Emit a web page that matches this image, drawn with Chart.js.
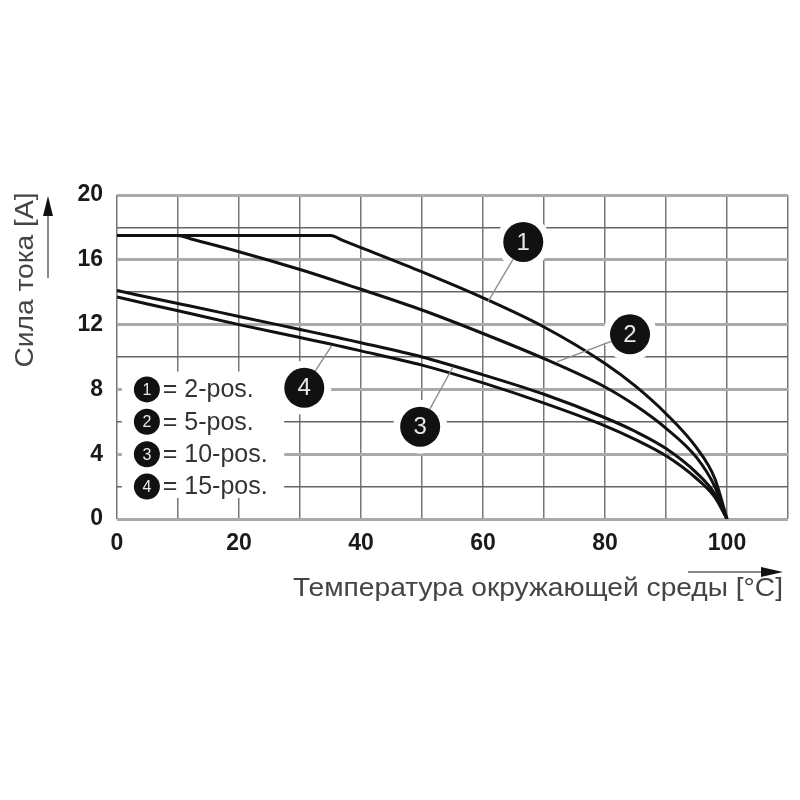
<!DOCTYPE html>
<html>
<head>
<meta charset="utf-8">
<script src="https://cdn.jsdelivr.net/npm/chart.js@4.4.1/dist/chart.umd.min.js"></script>
<style>
html, body { margin: 0; padding: 0; background: #fff; }
#wrap { width: 800px; height: 800px; }
</style>
</head>
<body>
<div id="wrap"><canvas id="deratingChart" width="800" height="800"></canvas></div>
<script>
// Derating curves: current vs. ambient temperature

const tempX = [0, 10, 12, 20, 30, 35, 37, 40, 50, 60, 70, 80, 85, 90, 95, 98, 100];

const pos2  = [17.5, 17.5, 17.5, 17.5, 17.5, 17.5, 17.2, 16.75, 15.25, 13.65, 11.85, 9.6, 8.2, 6.5, 4.4, 2.5, 0];
const pos5  = [17.5, 17.5, 17.3, 16.5, 15.4, 14.8, 14.55, 14.18, 12.9, 11.45, 9.9, 8.15, 7.0, 5.6, 3.8, 2.0, 0];
const pos10 = [14.1, 13.3, 13.15, 12.5, 11.7, 11.3, 11.13, 10.88, 10.0, 8.9, 7.7, 6.25, 5.4, 4.35, 2.85, 1.55, 0];
const pos15 = [13.7, 12.85, 12.68, 12.0, 11.2, 10.8, 10.63, 10.38, 9.5, 8.4, 7.15, 5.75, 4.9, 3.9, 2.5, 1.35, 0];

const seriesNames = ["2-pos.", "5-pos.", "10-pos.", "15-pos."];
const xTickLabels = [0, 20, 40, 60, 80, 100];
const yTickLabels = [0, 4, 8, 12, 16, 20];

const xTitle = "Температура окружающей среды [°C]";
const yTitle = "Сила тока [A]";

const FONT = "'Liberation Sans', Arial, Helvetica, sans-serif";

function toPoints(values) {
    return tempX.map((t, i) => ({ x: t, y: values[i] }));
}

// numbered callouts (circle centre and where the leader touches the curve), in data units
const callouts = [
    { n: 1, cx: 66.6, cy: 17.1, ex: 60.8, ey: 13.4 },
    { n: 2, cx: 84.1, cy: 11.4, ex: 72.1, ey: 9.7 },
    { n: 3, cx: 49.7, cy: 5.7,  ex: 55.1, ey: 9.4 },
    { n: 4, cx: 30.7, cy: 8.1,  ex: 35.2, ey: 10.7 }
];

const legendBox = { x0: 0.8, x1: 27.4, y0: 1.3, y1: 9.1 };
const legendRowsY = [8, 6, 4, 2];

// draw text stretched/squeezed to a given width
function fitText(ctx, text, x, y, width, align) {
    const w = ctx.measureText(text).width;
    const sx = width / w;
    ctx.save();
    ctx.translate(x, y);
    ctx.scale(sx, 1);
    ctx.textAlign = align;
    ctx.fillText(text, 0, 0);
    ctx.restore();
}

const annotate = {
    id: "annotate",

    beforeDatasetsDraw(chart) {
        const { ctx, scales: { x, y } } = chart;
        ctx.save();
        ctx.fillStyle = "#fff";

        const lx0 = x.getPixelForValue(legendBox.x0);
        const lx1 = x.getPixelForValue(legendBox.x1);
        const ly0 = y.getPixelForValue(legendBox.y1);
        const ly1 = y.getPixelForValue(legendBox.y0);
        ctx.fillRect(lx0, ly0, lx1 - lx0, ly1 - ly0);

        callouts.forEach(c => {
            ctx.beginPath();
            ctx.arc(x.getPixelForValue(c.cx), y.getPixelForValue(c.cy), 27, 0, Math.PI * 2);
            ctx.fill();
        });
        ctx.restore();
    },

    afterDatasetsDraw(chart) {
        const { ctx, scales: { x, y } } = chart;
        ctx.save();

        // callouts
        callouts.forEach(c => {
            const px = x.getPixelForValue(c.cx);
            const py = y.getPixelForValue(c.cy);
            const qx = x.getPixelForValue(c.ex);
            const qy = y.getPixelForValue(c.ey);
            const d = Math.hypot(qx - px, qy - py);

            ctx.strokeStyle = "#888";
            ctx.lineWidth = 1.3;
            ctx.beginPath();
            ctx.moveTo(px + (qx - px) * 20 / d, py + (qy - py) * 20 / d);
            ctx.lineTo(qx, qy);
            ctx.stroke();

            ctx.fillStyle = "#111";
            ctx.beginPath();
            ctx.arc(px, py, 20, 0, Math.PI * 2);
            ctx.fill();

            ctx.fillStyle = "#e8e8e8";
            ctx.font = "24px " + FONT;
            ctx.textAlign = "center";
            ctx.textBaseline = "middle";
            ctx.fillText(String(c.n), px, py + 1);
        });

        // legend
        legendRowsY.forEach((v, i) => {
            const py = y.getPixelForValue(v);
            const px = x.getPixelForValue(4.9);

            ctx.fillStyle = "#111";
            ctx.beginPath();
            ctx.arc(px, py, 13, 0, Math.PI * 2);
            ctx.fill();

            ctx.fillStyle = "#e8e8e8";
            ctx.font = "16px " + FONT;
            ctx.textAlign = "center";
            ctx.textBaseline = "middle";
            ctx.fillText(String(i + 1), px, py + 1);

            ctx.fillStyle = "#333";
            ctx.font = "25px " + FONT;
            ctx.textAlign = "left";
            ctx.fillText("= " + seriesNames[i], x.getPixelForValue(7.5), py + 1);
        });

        ctx.restore();
    },

    afterDraw(chart) {
        const { ctx } = chart;
        ctx.save();

        // y title with arrow
        ctx.fillStyle = "#444";
        ctx.font = "25px " + FONT;
        ctx.textBaseline = "alphabetic";
        ctx.save();
        ctx.translate(33, 280);
        ctx.rotate(-Math.PI / 2);
        fitText(ctx, yTitle, 0, 0, 175, "center");
        ctx.restore();

        ctx.strokeStyle = "#888";
        ctx.lineWidth = 2;
        ctx.beginPath();
        ctx.moveTo(48, 278);
        ctx.lineTo(48, 212);
        ctx.stroke();
        ctx.fillStyle = "#111";
        ctx.beginPath();
        ctx.moveTo(48, 196);
        ctx.lineTo(53, 216);
        ctx.lineTo(43, 216);
        ctx.closePath();
        ctx.fill();

        // x title with arrow
        ctx.fillStyle = "#444";
        ctx.font = "25px " + FONT;
        ctx.textBaseline = "alphabetic";
        fitText(ctx, xTitle, 783, 596, 490, "right");

        ctx.strokeStyle = "#888";
        ctx.beginPath();
        ctx.moveTo(688, 572);
        ctx.lineTo(765, 572);
        ctx.stroke();
        ctx.fillStyle = "#111";
        ctx.beginPath();
        ctx.moveTo(783, 572);
        ctx.lineTo(761, 567);
        ctx.lineTo(761, 577);
        ctx.closePath();
        ctx.fill();

        ctx.restore();
    }
};

const curveStyle = {
    borderColor: "#111",
    borderWidth: 3,
    pointRadius: 0,
    fill: false,
    cubicInterpolationMode: "monotone"
};

const chartCanvas = document.getElementById("deratingChart");

new Chart(chartCanvas, {

    type: "line",

    data: {
        datasets: [
            { label: seriesNames[0], data: toPoints(pos2),  ...curveStyle },
            { label: seriesNames[1], data: toPoints(pos5),  ...curveStyle },
            { label: seriesNames[2], data: toPoints(pos10), ...curveStyle },
            { label: seriesNames[3], data: toPoints(pos15), ...curveStyle }
        ]
    },

    options: {
        responsive: false,
        animation: false,
        devicePixelRatio: 1,

        layout: {
            padding: { top: 195, right: 12, left: 0, bottom: 0 }
        },

        plugins: {
            legend: { display: false },
            tooltip: { enabled: false }
        },

        scales: {
            x: {
                type: "linear",
                min: 0,
                max: 110,
                afterFit: scale => { scale.height = 281; },
                border: { display: false },
                grid: {
                    color: "#777",
                    lineWidth: 1.5,
                    drawTicks: false
                },
                ticks: {
                    stepSize: 10,
                    padding: 11,
                    maxRotation: 0,
                    autoSkip: false,
                    color: "#1a1a1a",
                    font: { family: FONT, size: 23, weight: "bold" },
                    callback: v => xTickLabels.includes(v) ? String(v) : ""
                }
            },
            y: {
                min: 0,
                max: 20,
                afterFit: scale => { scale.width = 117; },
                border: { display: false },
                grid: {
                    color: c => (c.tick && c.tick.value % 4 === 0) ? "#aaa" : "#666",
                    lineWidth: c => (c.tick && c.tick.value % 4 === 0) ? 3 : 1.5,
                    drawTicks: false
                },
                ticks: {
                    stepSize: 2,
                    padding: 14,
                    autoSkip: false,
                    color: "#1a1a1a",
                    font: { family: FONT, size: 23, weight: "bold" },
                    callback: v => yTickLabels.includes(v) ? String(v) : ""
                }
            }
        }
    },

    plugins: [annotate]
});
</script>
</body>
</html>
